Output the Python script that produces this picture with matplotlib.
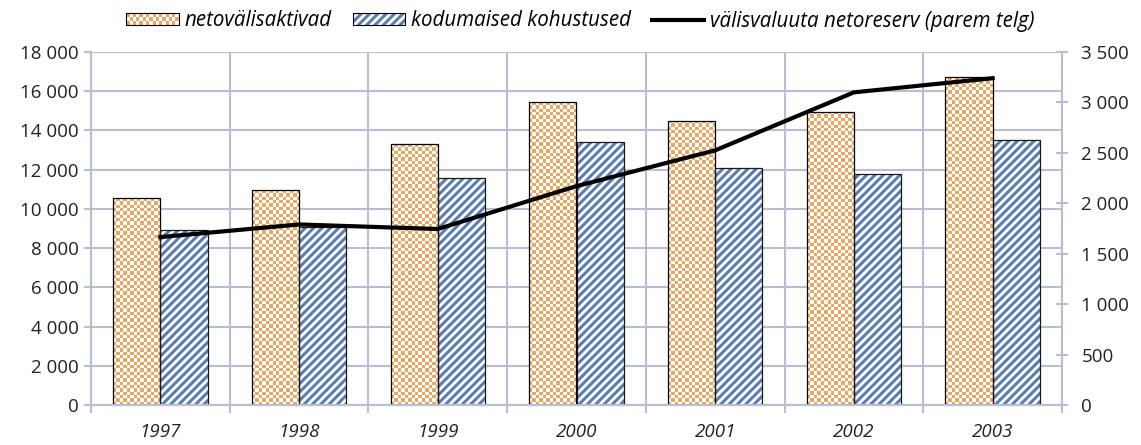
import numpy as np
import matplotlib
matplotlib.use('Agg')
import matplotlib.pyplot as plt
from matplotlib.patches import Rectangle
from matplotlib.lines import Line2D
from matplotlib.legend_handler import HandlerBase
from matplotlib.ticker import FuncFormatter

# Andmed
aastad = ['1997', '1998', '1999', '2000', '2001', '2002', '2003']
netovalisaktivad = [10550, 10950, 13300, 15450, 14500, 14950, 16700]
kodumaised_kohustused = [8900, 9100, 11550, 13400, 12100, 11800, 13500]
netoreserv = [1665, 1790, 1745, 2170, 2525, 3100, 3240]

ORANZ = '#E6A862'
SININE = '#5B7DB0'
VORK = '#BABED2'
FS = 13.5

plt.rcParams['font.family'] = ['Open Sans', 'DejaVu Sans']
plt.rcParams['hatch.linewidth'] = 2.2

fig = plt.figure(figsize=(11.41, 4.45), dpi=100)
ax = fig.add_axes([91 / 1141, 1 - 405 / 445, (1062 - 91) / 1141, (405 - 52) / 445])
ax2 = ax.twinx()

x = np.arange(len(aastad))
w = 0.34

# ruudustik
ax.set_axisbelow(True)
ax.grid(axis='y', color=VORK, linewidth=1.5)
ax.set_xticks(np.arange(-0.5, len(aastad)), minor=True)
ax.grid(axis='x', which='minor', color=VORK, linewidth=1.5)

# malelaua muster oranzidele tulpadele
px_per_unit = 353 / 18000
cell = 47 / 14
orange_rgb = np.array(matplotlib.colors.to_rgb(ORANZ))
for xi, v in zip(x, netovalisaktivad):
    bar = Rectangle((xi - w, 0), w, v, facecolor='none', edgecolor='black', linewidth=0.9, zorder=3)
    ax.add_patch(bar)
    nx = 14
    ny = max(1, int(round(v * px_per_unit / cell)))
    board = np.add.outer(np.arange(ny), np.arange(nx)) % 2
    img = np.where(board[..., None] == 1, np.ones(3), orange_rgb)
    im = ax.imshow(img, extent=(xi - w, xi, 0, v), aspect='auto',
                   interpolation='nearest', zorder=2, origin='lower')
    im.set_clip_path(bar)

# viirutatud sinised tulbad
ax.bar(x + w / 2, kodumaised_kohustused, w, facecolor='white', edgecolor=SININE,
       hatch='////', linewidth=0, zorder=2)
ax.bar(x + w / 2, kodumaised_kohustused, w, facecolor='none', edgecolor='#1a1a1a',
       linewidth=0.9, zorder=3)
ax.set_xlim(-0.5, len(aastad) - 0.5)
ax.set_ylim(0, 18000)

# joon parempoolsel teljel
ax2.plot(x, netoreserv, color='black', linewidth=3, zorder=5)
ax2.set_ylim(0, 3500)
ax2.set_yticks(np.arange(0, 3501, 500))
ax.set_zorder(2)
ax2.set_zorder(3)
ax2.patch.set_visible(False)

fmt = FuncFormatter(lambda v, p: f'{int(v):,}'.replace(',', ' '))
ax.yaxis.set_major_formatter(fmt)
ax2.yaxis.set_major_formatter(fmt)
ax.set_yticks(np.arange(0, 18001, 2000))

ax.set_xticks(x)
ax.set_xticklabels(aastad, fontstyle='italic')
ax.tick_params(axis='x', which='major', length=0, pad=13, labelsize=FS, colors='#222222')
ax.tick_params(axis='x', which='minor', length=6, width=1.5, color=VORK, direction='out')
ax.tick_params(axis='y', length=5, width=1.5, color=VORK, labelsize=FS, labelcolor='#222222', pad=4)
ax2.tick_params(axis='y', length=8, width=1.5, color=VORK, direction='inout', labelsize=FS,
                labelcolor='#222222', pad=10)

for a in (ax, ax2):
    for s in a.spines.values():
        s.set_color(VORK)
        s.set_linewidth(1.5)
    a.spines['top'].set_visible(False)


class ChessHandler(HandlerBase):
    def create_artists(self, legend, orig_handle, xdescent, ydescent, width, height, fontsize, trans):
        arts = []
        nx, ny = 16, 3
        cw, ch = width / nx, height / ny
        for i in range(nx):
            for j in range(ny):
                if (i + j) % 2 == 0:
                    arts.append(Rectangle((-xdescent + i * cw, -ydescent + j * ch), cw, ch,
                                          facecolor=ORANZ, edgecolor='none', transform=trans))
        arts.append(Rectangle((-xdescent, -ydescent), width, height, facecolor='none',
                              edgecolor='black', linewidth=0.8, transform=trans))
        return arts


class StripeHandler(HandlerBase):
    def create_artists(self, legend, orig_handle, xdescent, ydescent, width, height, fontsize, trans):
        r1 = Rectangle((-xdescent, -ydescent), width, height, facecolor='white', edgecolor=SININE,
                       hatch='////', linewidth=0, transform=trans)
        r2 = Rectangle((-xdescent, -ydescent), width, height, facecolor='none', edgecolor='black',
                       linewidth=0.8, transform=trans)
        return [r1, r2]


h1 = Rectangle((0, 0), 1, 1)
h2 = Rectangle((0, 0), 1, 1)
h3 = Line2D([], [], color='black', linewidth=3)
leg = fig.legend([h1, h2, h3],
                 ['netovälisaktivad', 'kodumaised kohustused', 'välisvaluuta netoreserv (parem telg)'],
                 handler_map={h1: ChessHandler(), h2: StripeHandler()},
                 loc='center', bbox_to_anchor=(0.5088, 1 - 21 / 445), ncol=3, frameon=False,
                 prop={'style': 'italic', 'size': 14.8}, handlelength=2.55, handleheight=0.5,
                 handletextpad=0.3, columnspacing=1.0)

fig.savefig('out.png', dpi=100)
